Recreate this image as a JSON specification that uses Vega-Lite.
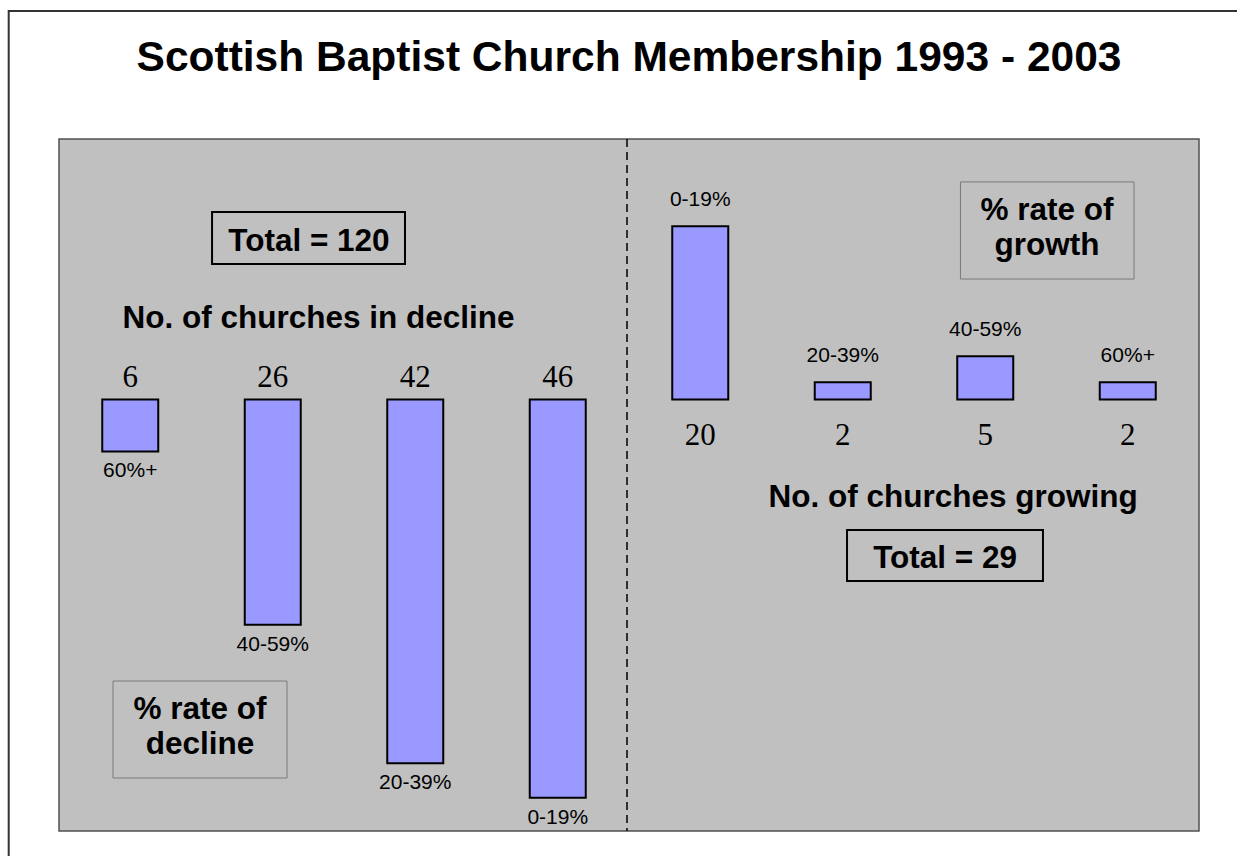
{
  "$schema": "https://vega.github.io/schema/vega-lite/v6.json",
  "width": 1140,
  "height": 692,
  "autosize": {"type": "none"},
  "padding": {"left": 59, "top": 139, "right": 38, "bottom": 25},
  "background": "white",
  "config": {"view": {"fill": "#C0C0C0", "stroke": "#505050", "strokeWidth": 1.5}},
  "title": {
    "text": "Scottish Baptist Church Membership 1993 - 2003",
    "font": "Liberation Sans",
    "fontSize": 42.5,
    "fontWeight": "bold",
    "color": "black",
    "anchor": "middle",
    "frame": "group",
    "baseline": "alphabetic",
    "offset": -103
  },
  "datasets": {
    "decline": [
      {"trend": "decline", "rate": "60%+", "bar": "decline 60%+", "churches": 6},
      {"trend": "decline", "rate": "40-59%", "bar": "decline 40-59%", "churches": 26},
      {"trend": "decline", "rate": "20-39%", "bar": "decline 20-39%", "churches": 42},
      {"trend": "decline", "rate": "0-19%", "bar": "decline 0-19%", "churches": 46}
    ],
    "growth": [
      {"trend": "growth", "rate": "0-19%", "bar": "growth 0-19%", "churches": 20},
      {"trend": "growth", "rate": "20-39%", "bar": "growth 20-39%", "churches": 2},
      {"trend": "growth", "rate": "40-59%", "bar": "growth 40-59%", "churches": 5},
      {"trend": "growth", "rate": "60%+", "bar": "growth 60%+", "churches": 2}
    ],
    "notes": [
      {"note": "Total = 120", "x": 2.254, "y": 17.15},
      {"note": "No. of churches in decline", "x": 2.321, "y": 8.26},
      {"note": "% rate of", "x": 1.489, "y": -36.89},
      {"note": "decline", "x": 1.489, "y": -40.94},
      {"note": "% rate of", "x": 7.433, "y": 20.73},
      {"note": "growth", "x": 7.433, "y": 16.69},
      {"note": "No. of churches growing", "x": 6.774, "y": -12.41},
      {"note": "Total = 29", "x": 6.718, "y": -19.42}
    ],
    "totalBoxes": [
      {"box": "Total = 120", "x": 1.574, "x2": 2.928, "y": 21.65, "y2": 15.65},
      {"box": "Total = 29", "x": 6.03, "x2": 7.405, "y": -15.07, "y2": -20.96}
    ],
    "rateBoxes": [
      {"box": "% rate of decline", "x": 0.879, "x2": 2.1, "y": -32.51, "y2": -43.71},
      {"box": "% rate of growth", "x": 6.826, "x2": 8.044, "y": 25.12, "y2": 13.91}
    ],
    "frame": [
      {"box": "page", "x": 0.147, "x2": 8.928, "y": 44.86, "y2": -54.33}
    ],
    "divider": [
      {"boundary": 4.486}
    ]
  },
  "resolve": {"scale": {"x": "independent", "y": "independent"}},
  "layer": [
    {
      "layer": [
        {
          "data": {"name": "frame"},
          "mark": {"type": "rect", "fill": "transparent", "stroke": "#333333", "strokeWidth": 2},
          "encoding": {
            "x": {"field": "x", "type": "quantitative"},
            "x2": {"field": "x2"},
            "y": {"field": "y", "type": "quantitative"},
            "y2": {"field": "y2"}
          }
        },
        {
          "data": {"name": "rateBoxes"},
          "mark": {"type": "rect", "fill": "transparent", "stroke": "#7a7a7a", "strokeWidth": 1},
          "encoding": {
            "x": {"field": "x", "type": "quantitative"},
            "x2": {"field": "x2"},
            "y": {"field": "y", "type": "quantitative"},
            "y2": {"field": "y2"}
          }
        },
        {
          "data": {"name": "totalBoxes"},
          "mark": {"type": "rect", "fill": "transparent", "stroke": "black", "strokeWidth": 2},
          "encoding": {
            "x": {"field": "x", "type": "quantitative"},
            "x2": {"field": "x2"},
            "y": {"field": "y", "type": "quantitative"},
            "y2": {"field": "y2"}
          }
        },
        {
          "data": {"name": "divider"},
          "mark": {"type": "rule", "stroke": "black", "strokeWidth": 1.5, "strokeDash": [8, 5]},
          "encoding": {
            "x": {"field": "boundary", "type": "quantitative"}
          }
        },
        {
          "data": {"name": "notes"},
          "mark": {"type": "text", "font": "Liberation Sans", "fontSize": 31.5, "fontWeight": "bold", "color": "black", "align": "center", "baseline": "alphabetic"},
          "encoding": {
            "x": {"field": "x", "type": "quantitative"},
            "y": {"field": "y", "type": "quantitative"},
            "text": {"field": "note"}
          }
        }
      ],
      "encoding": {
        "x": {"scale": {"domain": [0.5, 8.5], "nice": false, "zero": false}, "axis": null},
        "y": {"scale": {"domain": [-49.83, 30.08], "nice": false, "zero": false}, "axis": null}
      }
    },
    {
      "data": {"name": "decline"},
      "layer": [
        {
          "mark": {"type": "bar", "fill": "#9999FF", "stroke": "black", "strokeWidth": 2},
          "encoding": {
            "y": {"field": "churches", "type": "quantitative"},
            "y2": {"datum": 0}
          }
        },
        {
          "mark": {"type": "text", "font": "Liberation Serif", "fontSize": 31, "color": "black", "align": "center", "baseline": "alphabetic", "dy": -12},
          "encoding": {
            "y": {"datum": 0, "type": "quantitative"},
            "text": {"field": "churches", "type": "quantitative"}
          }
        },
        {
          "mark": {"type": "text", "font": "Liberation Sans", "fontSize": 21, "color": "black", "align": "center", "baseline": "alphabetic", "dy": 26},
          "encoding": {
            "y": {"field": "churches", "type": "quantitative"},
            "text": {"field": "rate"}
          }
        }
      ],
      "encoding": {
        "x": {
          "field": "bar", "type": "nominal", "axis": null,
          "scale": {"type": "band", "domain": ["decline 60%+", "decline 40-59%", "decline 20-39%", "decline 0-19%", "growth 0-19%", "growth 20-39%", "growth 40-59%", "growth 60%+"], "paddingInner": 0.607, "paddingOuter": 0.3035}
        },
        "y": {"scale": {"domain": [-30.08, 49.83], "reverse": true, "nice": false}, "axis": null}
      }
    },
    {
      "data": {"name": "growth"},
      "layer": [
        {
          "mark": {"type": "bar", "fill": "#9999FF", "stroke": "black", "strokeWidth": 2},
          "encoding": {
            "y": {"field": "churches", "type": "quantitative"},
            "y2": {"datum": 0}
          }
        },
        {
          "mark": {"type": "text", "font": "Liberation Serif", "fontSize": 31, "color": "black", "align": "center", "baseline": "alphabetic", "dy": 46},
          "encoding": {
            "y": {"datum": 0, "type": "quantitative"},
            "text": {"field": "churches", "type": "quantitative"}
          }
        },
        {
          "mark": {"type": "text", "font": "Liberation Sans", "fontSize": 21, "color": "black", "align": "center", "baseline": "alphabetic", "dy": -20},
          "encoding": {
            "y": {"field": "churches", "type": "quantitative"},
            "text": {"field": "rate"}
          }
        }
      ],
      "encoding": {
        "x": {
          "field": "bar", "type": "nominal", "axis": null,
          "scale": {"type": "band", "domain": ["decline 60%+", "decline 40-59%", "decline 20-39%", "decline 0-19%", "growth 0-19%", "growth 20-39%", "growth 40-59%", "growth 60%+"], "paddingInner": 0.607, "paddingOuter": 0.3035}
        },
        "y": {"scale": {"domain": [-49.83, 30.08], "nice": false}, "axis": null}
      }
    }
  ]
}
